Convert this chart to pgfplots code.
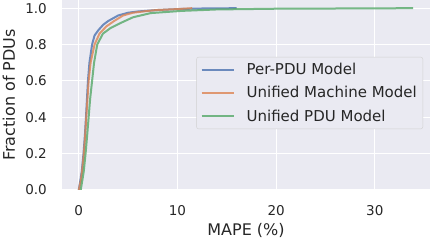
\documentclass[border=0pt]{standalone}
\usepackage{fontspec}
\setmainfont{DejaVu Sans}
\usepackage{pgfplots}
\pgfplotsset{compat=1.18}
\definecolor{sbblue}{HTML}{4C72B0}
\definecolor{sborange}{HTML}{DD8452}
\definecolor{sbgreen}{HTML}{55A868}
\definecolor{sbbg}{HTML}{EAEAF2}
\definecolor{sbtext}{HTML}{262626}
\begin{document}
\begin{tikzpicture}[x=1bp,y=1bp]
\useasboundingbox (0,0) rectangle (430,240);
\begin{axis}[
  at={(62bp,50bp)}, anchor=south west,
  width=368bp, height=190bp, scale only axis,
  xmin=-1.7, xmax=35.6, ymin=0, ymax=1.045,
  xtick={0,10,20,30}, ytick={0,0.2,0.4,0.6,0.8,1.0},
  yticklabel style={/pgf/number format/fixed,/pgf/number format/fixed zerofill,/pgf/number format/precision=1},
  /pgf/number format/assume math mode=true,
  ticklabel style={font=\fontsize{13.5bp}{16bp}\selectfont, text=sbtext},
  label style={font=\fontsize{16bp}{19bp}\selectfont, text=sbtext},
  major tick length=0pt,
  axis line style={draw=none},
  axis background/.style={fill=sbbg},
  grid=major, major grid style={white, line width=1.1bp},
  xlabel={MAPE (\%)}, ylabel={Fraction of PDUs},
  xlabel style={at={(axis description cs:0.5,-0.237)}, anchor=base},
  ylabel style={at={(axis description cs:-0.144,0.5)}, anchor=center},
  xticklabel style={anchor=base, yshift=-25.7bp, inner sep=0pt},
  yticklabel style={anchor=east, xshift=-15bp, inner sep=0pt},
  legend style={at={(0.981,0.7)}, anchor=north east, draw=black!18, fill=sbbg, rounded corners=2pt,
    font=\fontsize{15bp}{18bp}\selectfont, text=sbtext, row sep=6.5bp, inner sep=4bp,
    nodes={inner sep=2bp}},
  legend cell align=left,
  legend image code/.code={\draw[#1, line width=2bp] (0bp,0bp) -- (32bp,0bp); \path (42bp,0bp);},
  every axis plot/.append style={line width=2bp, opacity=0.8},
]
\addplot[sbblue] coordinates {(0,0) (0.15,0.05) (0.3,0.1) (0.48,0.2) (0.62,0.3) (0.73,0.4) (0.83,0.5) (0.93,0.6) (1.08,0.7) (1.35,0.8) (1.6,0.85) (2.0,0.88) (2.5,0.91) (3.0,0.93) (4.0,0.96) (5,0.975) (6,0.982) (8,0.99) (10,0.995) (12,0.998) (16,1.0)};
\addlegendentry{Per-PDU Model}
\addplot[sborange] coordinates {(0,0) (0.2,0.05) (0.33,0.1) (0.52,0.2) (0.65,0.3) (0.76,0.4) (0.88,0.5) (1.0,0.6) (1.2,0.7) (1.6,0.8) (2.1,0.86) (2.8,0.9) (3.6,0.93) (4.5,0.96) (5.5,0.975) (7,0.985) (8,0.99) (10,0.995) (11.5,1.0)};
\addlegendentry{Unified Machine Model}
\addplot[sbgreen] coordinates {(0.2,0) (0.35,0.05) (0.5,0.1) (0.69,0.2) (0.85,0.3) (1.0,0.4) (1.15,0.5) (1.35,0.6) (1.55,0.7) (1.87,0.8) (2.45,0.86) (3.2,0.89) (4.3,0.92) (5.5,0.95) (7.3,0.973) (10.4,0.985) (14,0.993) (20,0.997) (25,0.998) (33.9,1.0)};
\addlegendentry{Unified PDU Model}
\end{axis}
\end{tikzpicture}
\end{document}
